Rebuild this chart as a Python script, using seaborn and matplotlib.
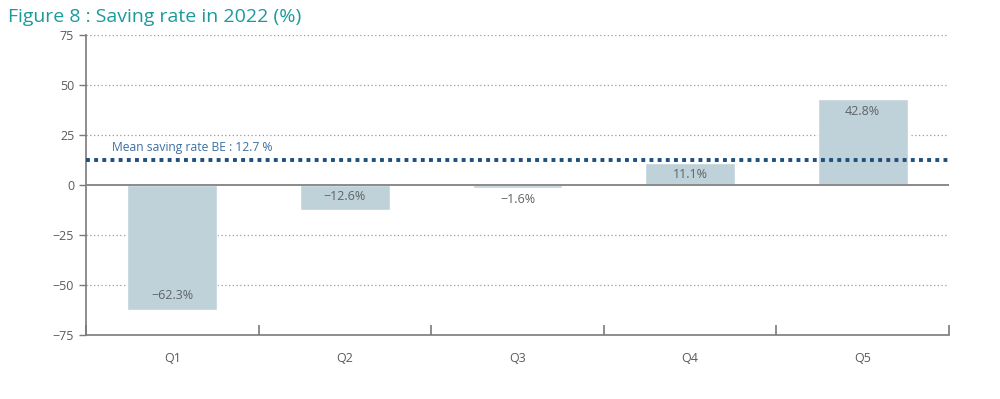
import matplotlib
matplotlib.use("Agg")
import matplotlib.pyplot as plt
import seaborn as sns
import pandas as pd
import numpy as np

categories = ["Q1", "Q2", "Q3", "Q4", "Q5"]
values = [-62.3, -12.6, -1.6, 11.1, 42.8]
labels = ["\u221262.3%", "\u221212.6%", "\u22121.6%", "11.1%", "42.8%"]
mean_rate = 12.7
mean_label = "Mean saving rate BE : 12.7 %"
yticks = [-75, -50, -25, 0, 25, 50, 75]
ytick_labels = ["\u221275", "\u221250", "\u221225", "0", "25", "50", "75"]
title = "Figure 8 : Saving rate in 2022 (%)"

sns.set_theme(style="white")
plt.rcParams['font.family'] = ['Open Sans', 'DejaVu Sans']

df = pd.DataFrame({"cat": categories, "val": values})

fig = plt.figure(figsize=(10, 3.99), dpi=100)
ax = fig.add_axes([0.086, 0.1604, 0.863, 0.7519])

grey = "#7a7a7a"
sns.barplot(data=df, x="cat", y="val", color="#bfd1d9", saturation=1, width=0.52, ax=ax, zorder=3)

ax.set_ylim(-75, 75)
ax.set_xlim(-0.5, 4.5)
ax.set_yticks(yticks)
ax.set_yticklabels(ytick_labels)
for y in yticks:
    if y in (0, -75):
        continue
    ax.axhline(y, color="#9a9a9a", lw=0.9, ls=(0, (1, 2)), zorder=1)
ax.axhline(0, color="#8a8a8a", lw=1.4, zorder=4)
ax.axhline(mean_rate, color="#1f4e7f", lw=2.8, ls=(0, (1, 1.1)), zorder=5)
ax.text(-0.35, mean_rate + 2.8, mean_label, color="#3d6fa3", fontsize=8.7,
        va="bottom", ha="left")

for i, (v, lab) in enumerate(zip(values, labels)):
    if v < -5:
        ypos = v + 7
    elif v < 0:
        ypos = v - 5.5
    else:
        ypos = v - 6
    ax.text(i, ypos, lab, ha="center", va="center", fontsize=9, color="#5f6468", zorder=6)

for s in ["top", "right"]:
    ax.spines[s].set_visible(False)
ax.spines["left"].set_color(grey)
ax.spines["bottom"].set_color(grey)
ax.spines["left"].set_linewidth(1.2)
ax.spines["bottom"].set_linewidth(1.2)

ax.tick_params(axis="y", direction="out", length=5, width=1, color=grey, labelcolor="#5a5a5a", labelsize=9, left=True)
ax.tick_params(axis="x", which="major", length=0, labelcolor="#5a5a5a", labelsize=9, pad=12)
ax.set_xticks(np.arange(-0.5, 5.0, 1.0), minor=True)
ax.tick_params(axis="x", which="minor", direction="in", length=7, width=1.2, color=grey, bottom=True)
ax.set_xlabel("")
ax.set_ylabel("")

fig.text(0.008, 0.957, title, color="#1a9a9c", fontsize=14, ha="left", va="center")

fig.savefig("out.png", dpi=100)
